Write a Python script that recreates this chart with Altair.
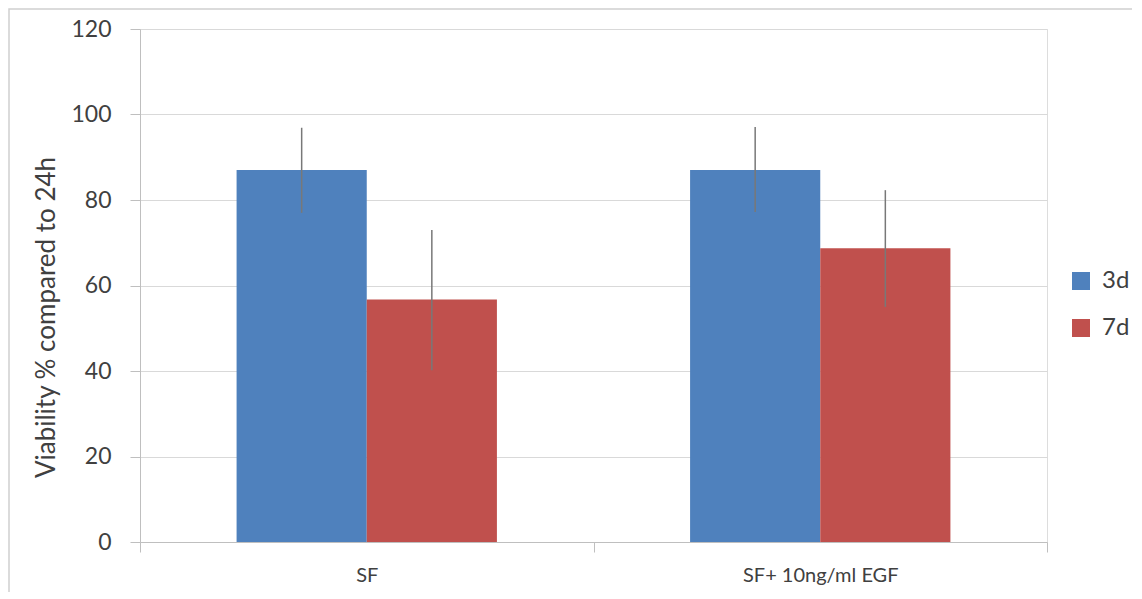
import altair as alt
import pandas as pd

categories = ["SF", "SF+ 10ng/ml EGF"]
series = ["3d", "7d"]
values_3d = [87.0, 87.0]
values_7d = [56.7, 68.7]
err_low_3d = [77.0, 77.2]
err_high_3d = [96.9, 97.1]
err_low_7d = [40.2, 55.0]
err_high_7d = [73.0, 82.3]
colors = ["#4F81BD", "#C0504D"]
y_ticks = [0, 20, 40, 60, 80, 100, 120]

rows = []
for i, c in enumerate(categories):
    rows.append(dict(cat=c, series="3d", value=values_3d[i], lo=err_low_3d[i], hi=err_high_3d[i]))
    rows.append(dict(cat=c, series="7d", value=values_7d[i], lo=err_low_7d[i], hi=err_high_7d[i]))
df = pd.DataFrame(rows)

FONT = "Lato"
TXT = "#404040"

x = alt.X(
    "cat:N", sort=categories,
    scale=alt.Scale(paddingInner=0, paddingOuter=0),
    axis=alt.Axis(title=None, labelAngle=0, tickBand="extent", ticks=True, tickSize=10,
                  tickColor="#BFBFBF", domainColor="#BFBFBF", labelFontSize=20,
                  labelColor=TXT, labelPadding=13, grid=False, labelFont=FONT),
)
xo = alt.XOffset("series:N", sort=series, scale=alt.Scale(paddingInner=0, paddingOuter=0.742))
y = alt.Y(
    "value:Q",
    scale=alt.Scale(domain=[0, 120], nice=False),
    axis=alt.Axis(values=y_ticks, title="Viability % compared to 24h", tickSize=10,
                  tickColor="#BFBFBF", domainColor="#BFBFBF", gridColor="#D9D9D9",
                  labelFontSize=23, labelColor=TXT, labelPadding=19, labelFont=FONT,
                  titleFont=FONT, titleFontSize=26, titleFontWeight="normal", titleColor=TXT,
                  titleX=-94, titleY=288, titleAngle=270, titleAlign="center",
                  titleBaseline="middle"),
)
color = alt.Color(
    "series:N", sort=series, scale=alt.Scale(domain=series, range=colors),
    legend=alt.Legend(title=None, orient="none", legendX=929, legendY=240,
                      symbolType="square", symbolSize=324, symbolStrokeWidth=0,
                      labelFontSize=24, labelColor=TXT, labelFont=FONT,
                      labelOffset=9, rowPadding=23),
)

bars = alt.Chart(df).mark_bar().encode(x=x, xOffset=xo, y=y, color=color)
errs = alt.Chart(df).mark_rule(color="#787878", strokeWidth=1.5).encode(
    x=x, xOffset=xo, y="lo:Q", y2="hi:Q"
)
border = alt.Chart(pd.DataFrame({"a": [0]})).mark_rect(
    fillOpacity=0, stroke="#D0D0D0", strokeWidth=1.5
).encode(x=alt.value(-131), x2=alt.value(1100), y=alt.value(-20), y2=alt.value(700))

chart = alt.layer(border, bars, errs).properties(
    width=907, height=513,
    autosize=alt.AutoSizeParams(type="none"),
    padding={"left": 132, "top": 21, "right": 85, "bottom": 50},
).configure_view(stroke=None).configure(font=FONT)

chart.save("out.html", embed_options={"renderer": "svg", "actions": False})
